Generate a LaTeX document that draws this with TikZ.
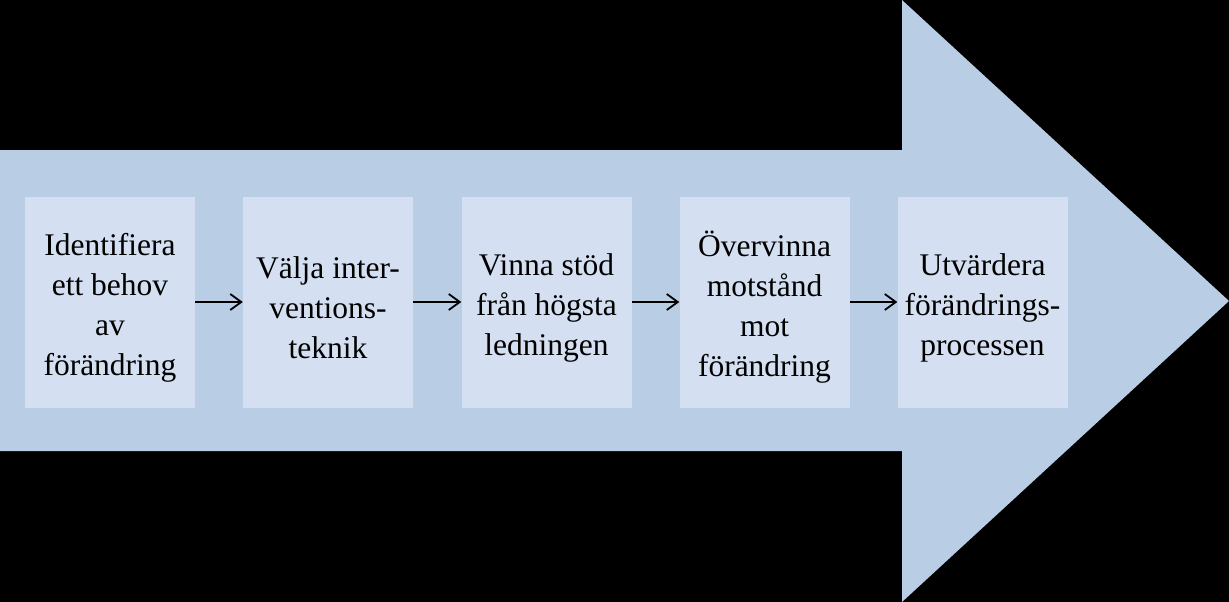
\documentclass[tikz,border=0pt]{standalone}
\usepackage{fontspec}
\setmainfont{Liberation Serif}
\usetikzlibrary{arrows.meta}
\definecolor{arrowblue}{HTML}{B9CDE5}
\definecolor{boxblue}{HTML}{D4E0F1}
\begin{document}
\begin{tikzpicture}[x=1pt,y=-1pt,
  stepbox/.style={fill=boxblue, minimum width=170pt, minimum height=211pt, inner sep=0pt},
  steptext/.style={inner sep=0pt, align=center, font=\fontsize{31.5}{40}\selectfont},
  conn/.style={line width=1.8pt, -{Straight Barb[length=11pt,width=16pt,line width=1.8pt]}}]
\fill[black] (0,0) rectangle (1229,602);
\useasboundingbox (0,0) rectangle (1229,602);
\fill[arrowblue] (0,150) -- (902,150) -- (902,0) -- (1229,301) -- (902,602) -- (902,451) -- (0,451) -- cycle;
\node[stepbox] (b1) at (110,302.5) {};
\node[stepbox] (b2) at (328,302.5) {};
\node[stepbox] (b3) at (546.5,302.5) {};
\node[stepbox] (b4) at (764.5,302.5) {};
\node[stepbox] (b5) at (982.5,302.5) {};
\node[steptext] (t1) at ([yshift=-5pt]b1.center) {Identifiera\\ett behov\\av\\förändring};
\node[steptext] (t2) at ([yshift=-5pt]b2.center) {Välja inter-\\ventions-\\teknik};
\node[steptext] (t3) at ([yshift=-5pt]b3.center) {Vinna stöd\\från högsta\\ledningen};
\node[steptext] (t4) at ([yshift=-5pt]b4.center) {Övervinna\\motstånd\\mot\\förändring};
\node[steptext] (t5) at ([yshift=-5pt]b5.center) {Utvärdera\\förändrings-\\processen};
\draw[conn] (b1.east |- 0,302) -- (b2.west |- 0,302);
\draw[conn] (b2.east |- 0,302) -- (b3.west |- 0,302);
\draw[conn] (b3.east |- 0,302) -- (b4.west |- 0,302);
\draw[conn] (b4.east |- 0,302) -- (b5.west |- 0,302);
\end{tikzpicture}
\end{document}
